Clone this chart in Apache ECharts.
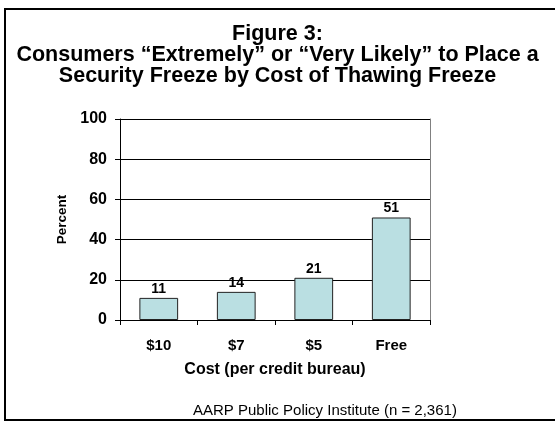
<!DOCTYPE html>
<html>
<head>
<meta charset="utf-8">
<script src="https://cdn.jsdelivr.net/npm/echarts@6/dist/echarts.min.js"></script>
<style>
  html, body { margin: 0; padding: 0; background: #fff; }
  #chart { width: 555px; height: 423px; }
</style>
</head>
<body>
<div id="chart"></div>
<script>
const categories = ['$10', '$7', '$5', 'Free']
const percents = [11, 14, 21, 51]
const yTicks = [0, 20, 40, 60, 80, 100]

const FONT = '"Liberation Sans", Arial, sans-serif'
const chart = echarts.init(document.getElementById('chart'))

chart.setOption({
  animation: false,
  backgroundColor: '#fff',
  title: {
    text: 'Figure 3:\nConsumers \u201cExtremely\u201d or \u201cVery Likely\u201d to Place a\nSecurity Freeze by Cost of Thawing Freeze',
    left: 'center',
    top: 19,
    textStyle: { fontFamily: FONT, fontSize: 21.5, fontWeight: 'bold', color: '#000', lineHeight: 21 }
  },
  graphic: [
    {
      type: 'rect',
      shape: { x: 5, y: 9, width: 560, height: 411 },
      style: { fill: 'none', stroke: '#000', lineWidth: 2 }
    },
    {
      type: 'text',
      left: 193,
      top: 403,
      style: { text: 'AARP Public Policy Institute (n = 2,361)', font: '15px ' + FONT, fill: '#000' }
    }
  ],
  grid: { left: 120, right: 125, top: 119, bottom: 103 },
  xAxis: {
    type: 'category',
    data: categories,
    name: 'Cost (per credit bureau)',
    nameLocation: 'middle',
    nameGap: 42,
    nameTextStyle: { fontFamily: FONT, fontSize: 16, fontWeight: 'bold', color: '#000' },
    axisLine: { lineStyle: { color: '#000', width: 1 } },
    axisTick: { show: true, length: 5, lineStyle: { color: '#000' } },
    axisLabel: { margin: 18, fontFamily: FONT, fontSize: 15, fontWeight: 'bold', color: '#000' }
  },
  yAxis: [
    {
      type: 'value',
      min: yTicks[0],
      max: yTicks[yTicks.length - 1],
      interval: yTicks[1] - yTicks[0],
      name: 'Percent',
      nameLocation: 'middle',
      nameGap: 49,
      nameTextStyle: { fontFamily: FONT, fontSize: 13.5, fontWeight: 'bold', color: '#000' },
      axisLine: { show: true, lineStyle: { color: '#000', width: 1 } },
      axisTick: { show: true, length: 5, lineStyle: { color: '#000' } },
      axisLabel: { margin: 13, fontFamily: FONT, fontSize: 16, fontWeight: 'bold', color: '#000' },
      splitLine: { show: true, lineStyle: { color: '#000', width: 1 } }
    },
    {
      type: 'value',
      min: yTicks[0],
      max: yTicks[yTicks.length - 1],
      position: 'right',
      axisLine: { show: true, lineStyle: { color: '#808080', width: 1 } },
      axisTick: { show: false },
      axisLabel: { show: false },
      splitLine: { show: false }
    }
  ],
  series: [
    {
      type: 'bar',
      data: percents,
      barWidth: '50%',
      itemStyle: { color: '#BADFE2', borderColor: '#222', borderWidth: 1 },
      label: {
        show: true,
        position: 'top',
        distance: 2,
        fontFamily: FONT,
        fontSize: 14,
        fontWeight: 'bold',
        color: '#000'
      }
    }
  ]
})
</script>
</body>
</html>
